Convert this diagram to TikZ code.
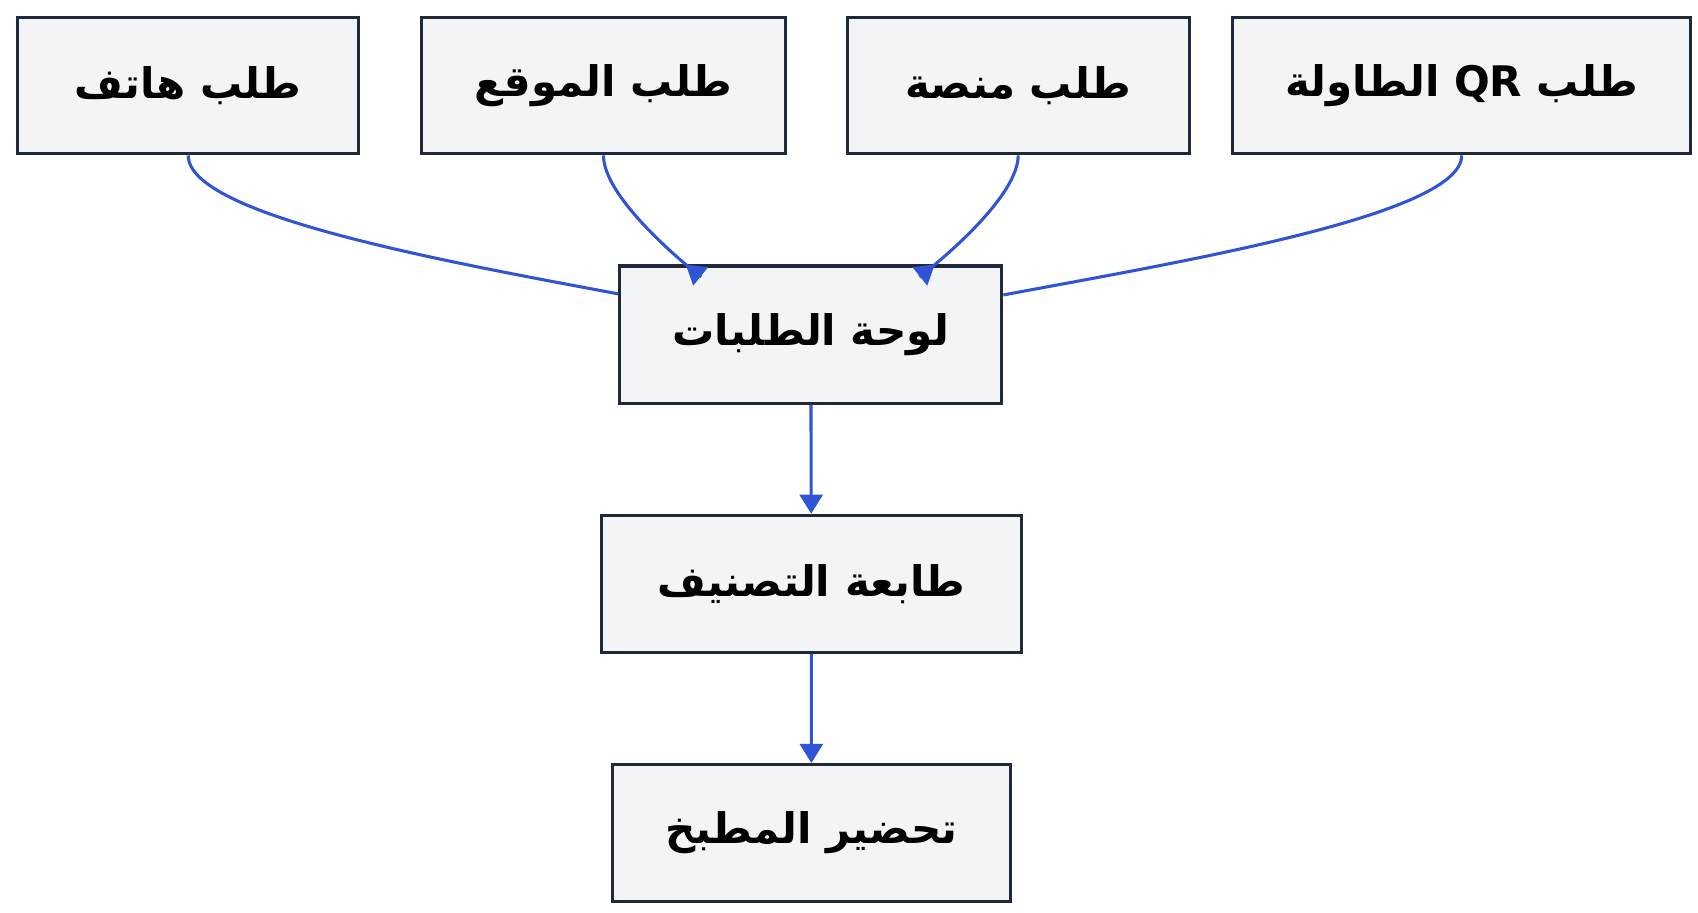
\documentclass[tikz,border=0pt]{standalone}
\usepackage{fontspec}
\newfontfamily\arabicfont[Script=Arabic]{DejaVu Sans}
\usetikzlibrary{arrows.meta}
\TeXXeTstate=1
\definecolor{boxfill}{HTML}{F3F4F6}
\definecolor{boxline}{HTML}{1F2937}
\definecolor{flow}{HTML}{2F54D6}
\newcommand\ar[1]{\beginR #1\endR}
\begin{document}
\begin{tikzpicture}[x=1cm,y=-1cm,
  stage/.style={draw=boxline,fill=boxfill,line width=0.8pt,anchor=north west,
    font=\arabicfont\bfseries\fontsize{11}{13}\selectfont},
  link/.style={draw=flow,line width=0.8pt,-{Triangle[length=5pt,width=6pt]}},
  plain/.style={draw=flow,line width=0.8pt}]
  \useasboundingbox (0,0) rectangle (15.6,8.38);
  \node (phone) [stage,minimum width=3.13cm,minimum height=1.25cm] at (0.15,0.15) {\ar{طلب هاتف}};
  \node (site) [stage,minimum width=3.34cm,minimum height=1.25cm] at (3.86,0.15) {\ar{طلب الموقع}};
  \node (platform) [stage,minimum width=3.14cm,minimum height=1.25cm] at (7.77,0.15) {\ar{طلب منصة}};
  \node (qr) [stage,minimum width=4.21cm,minimum height=1.25cm] at (11.31,0.15) {\ar{طلب QR الطاولة}};
  \node (board) [stage,minimum width=3.51cm,minimum height=1.26cm] at (5.68,2.43) {\ar{لوحة الطلبات}};
  \node (printer) [stage,minimum width=3.86cm,minimum height=1.26cm] at (5.51,4.72) {\ar{طابعة التصنيف}};
  \node (kitchen) [stage,minimum width=3.66cm,minimum height=1.26cm] at (5.61,7.01) {\ar{تحضير المطبخ}};

  \path (board.north west) ++(0,0.27) coordinate (bl);
  \path (board.north east) ++(0,0.28) coordinate (br);
  \path (board.north west) ++(0.62,0) coordinate (bs);
  \path (board.north east) ++(-0.63,0) coordinate (bp);
  \draw[plain] (phone.south) .. controls +(0,0.55) and +(-1.6,-0.3) .. (bl);
  \draw[link] (site.south) .. controls +(0,0.45) and +(0.25,0.2) .. (bs);
  \draw[link] (platform.south) .. controls +(0,0.45) and +(-0.25,0.2) .. (bp);
  \draw[plain] (qr.south) .. controls +(0,0.55) and +(1.6,-0.3) .. (br);
  \draw[link] (board) -- (printer);
  \draw[link] (printer) -- (kitchen);
\end{tikzpicture}
\end{document}
